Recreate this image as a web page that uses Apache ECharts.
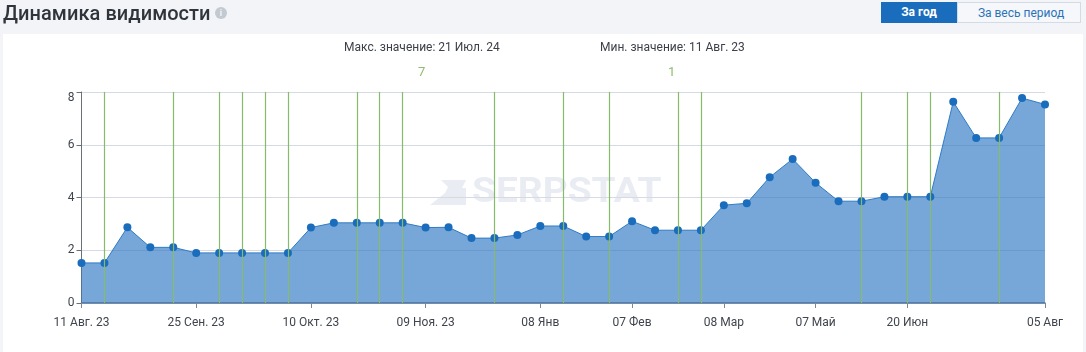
<!DOCTYPE html>
<html lang="ru">
<head>
    <meta charset="UTF-8">
    <title>Динамика видимости</title>
    <script src="https://cdn.jsdelivr.net/npm/echarts@6/dist/echarts.min.js"></script>
    <style>
        html,body{
            margin: 0;
            height: 100%;
            background: #f2f4f8;
            font-family: Roboto, sans-serif;
            overflow: hidden;
        }
        #head{
            position: absolute;left: 3px;top: 0;
            font-size: 20px;font-weight: 500;line-height: 26px;
            color: #30353b;letter-spacing: .06px;
        }
        #info{
            position: absolute;left: 215px;top: 7px;
            width: 12px;height: 12px;border-radius: 50%;
            background: #c3c9d0;color: #f2f4f8;
            font-size: 9px;font-weight: 700;line-height: 12px;text-align: center;
        }
        .btn{
            position: absolute;top: 2px;height: 21px;box-sizing: border-box;
            font-size: 12px;line-height: 20px;text-align: center;
        }
        #b1{left: 881px;width: 76px;background: #1a6dbd;color: #fff;font-weight: 700;}
        #b2{left: 957px;width: 124px;background: #f5f7fa;color: #2b73b8;border: 1px solid #d3dbe6;padding-left: 4px;}
        #card{
            position: absolute;left: 3px;top: 34px;width: 1080px;height: 318px;
            background: #fff;
        }
        #main{position: absolute;left: 0;top: 0;width: 1086px;height: 352px;}
    </style>
</head>
<body>
<div id="card"></div>
<div id="main"></div>
<div id="head">Динамика видимости</div>
<div id="info">i</div>
<div class="btn" id="b1">За год</div>
<div class="btn" id="b2">За весь период</div>
<script>
    // подписи оси X, пустые строки не показываем
    var categories = ['11 Авг. 23','','','','','25 Сен. 23','','','','','10 Окт. 23','','','','','09 Ноя. 23','','','','','08 Янв','','','','07 Фев','','','','08 Мар','','','','07 Май','','','','20 Июн','','','','','','05 Авг'];
    // видимость
    var visibility = [1.52,1.52,2.87,2.11,2.11,1.9,1.9,1.9,1.9,1.9,2.86,3.04,3.04,3.04,3.04,2.86,2.87,2.46,2.46,2.58,2.92,2.92,2.52,2.52,3.1,2.76,2.76,2.76,3.71,3.78,4.77,5.46,4.56,3.86,3.86,4.03,4.03,4.03,7.63,6.26,6.26,7.77,7.53];
    // номера точек с зелеными линиями
    var updates = [1,4,6,7,8,9,12,13,14,18,21,23,26,27,34,36,37,40];
    var yTicks = [0,2,4,6,8];

    var myChart = echarts.init(document.getElementById('main'), null, {renderer: 'canvas'});

    var option = {
        animation: false,
        textStyle: {fontFamily: 'Roboto'},
        grid: {left: 81.5, right: 41, top: 92, bottom: 49},
        graphic: [
            {type: 'text', left: 344, top: 42, style: {text: 'Макс. значение: 21 Июл. 24', font: '12px Roboto', fill: '#3c4048'}},
            {type: 'text', left: 600, top: 42, style: {text: 'Мин. значение: 11 Авг. 23', font: '12px Roboto', fill: '#3c4048'}},
            {type: 'text', left: 418, top: 66, style: {text: '7', font: '13px Roboto', fill: '#8fbc6c'}},
            {type: 'text', left: 668, top: 66, style: {text: '1', font: '13px Roboto', fill: '#8fbc6c'}},
            // водяной знак растянут по ширине, letterSpacing здесь не работает
            {type: 'text', left: 472, top: 176, z: 0, scaleX: 1.11, style: {text: 'SERPSTAT', font: 'bold 35px Roboto', fill: '#e9ecf3'}},
            {type: 'polygon', z: 0, shape: {points: [[441,180],[466,180],[462,188],[466,188],[466,205],[430,205],[445,193],[448,187]]}, style: {fill: '#e9ecf3'}}
        ],
        xAxis: {
            type: 'category',
            boundaryGap: false,
            data: categories,
            axisLine: {lineStyle: {color: '#5f7186', width: 1.5}},
            axisTick: {
                length: 5,
                lineStyle: {color: '#7d8794'},
                interval: function (i, v) { return v !== ''; }
            },
            axisLabel: {
                color: '#40454d',
                fontSize: 12,
                margin: 14,
                interval: function (i, v) { return v !== ''; }
            },
            splitLine: {show: false}
        },
        yAxis: {
            type: 'value',
            min: yTicks[0],
            max: yTicks[4],
            interval: 2,
            axisLine: {show: true, lineStyle: {color: '#6b7078', width: 1}},
            axisTick: {show: true, length: 5, lineStyle: {color: '#6b7078'}},
            axisLabel: {color: '#40454d', fontSize: 12, margin: 7, verticalAlignMaxLabel: 'top'},
            splitLine: {lineStyle: {color: '#d6dae2', width: 1}}
        },
        series: [
            {
                // зеленые линии лежат под областью
                name: 'Обновления',
                type: 'line',
                data: [],
                z: 1,
                silent: true,
                markLine: {
                    symbol: 'none',
                    silent: true,
                    label: {show: false},
                    lineStyle: {color: '#86bb6a', width: 1.2, type: 'solid'},
                    data: updates.map(function (i) { return {xAxis: i}; })
                }
            },
            {
                name: 'Видимость',
                type: 'line',
                data: visibility,
                z: 2,
                showSymbol: true,
                showAllSymbols: true,
                symbol: 'circle',
                symbolSize: 8,
                itemStyle: {color: '#1a6dbd'},
                lineStyle: {color: '#2f7cc4', width: 1},
                areaStyle: {color: '#2e76c5', opacity: 0.65}
            }
        ]
    };
    myChart.setOption(option);
</script>
</body>
</html>
